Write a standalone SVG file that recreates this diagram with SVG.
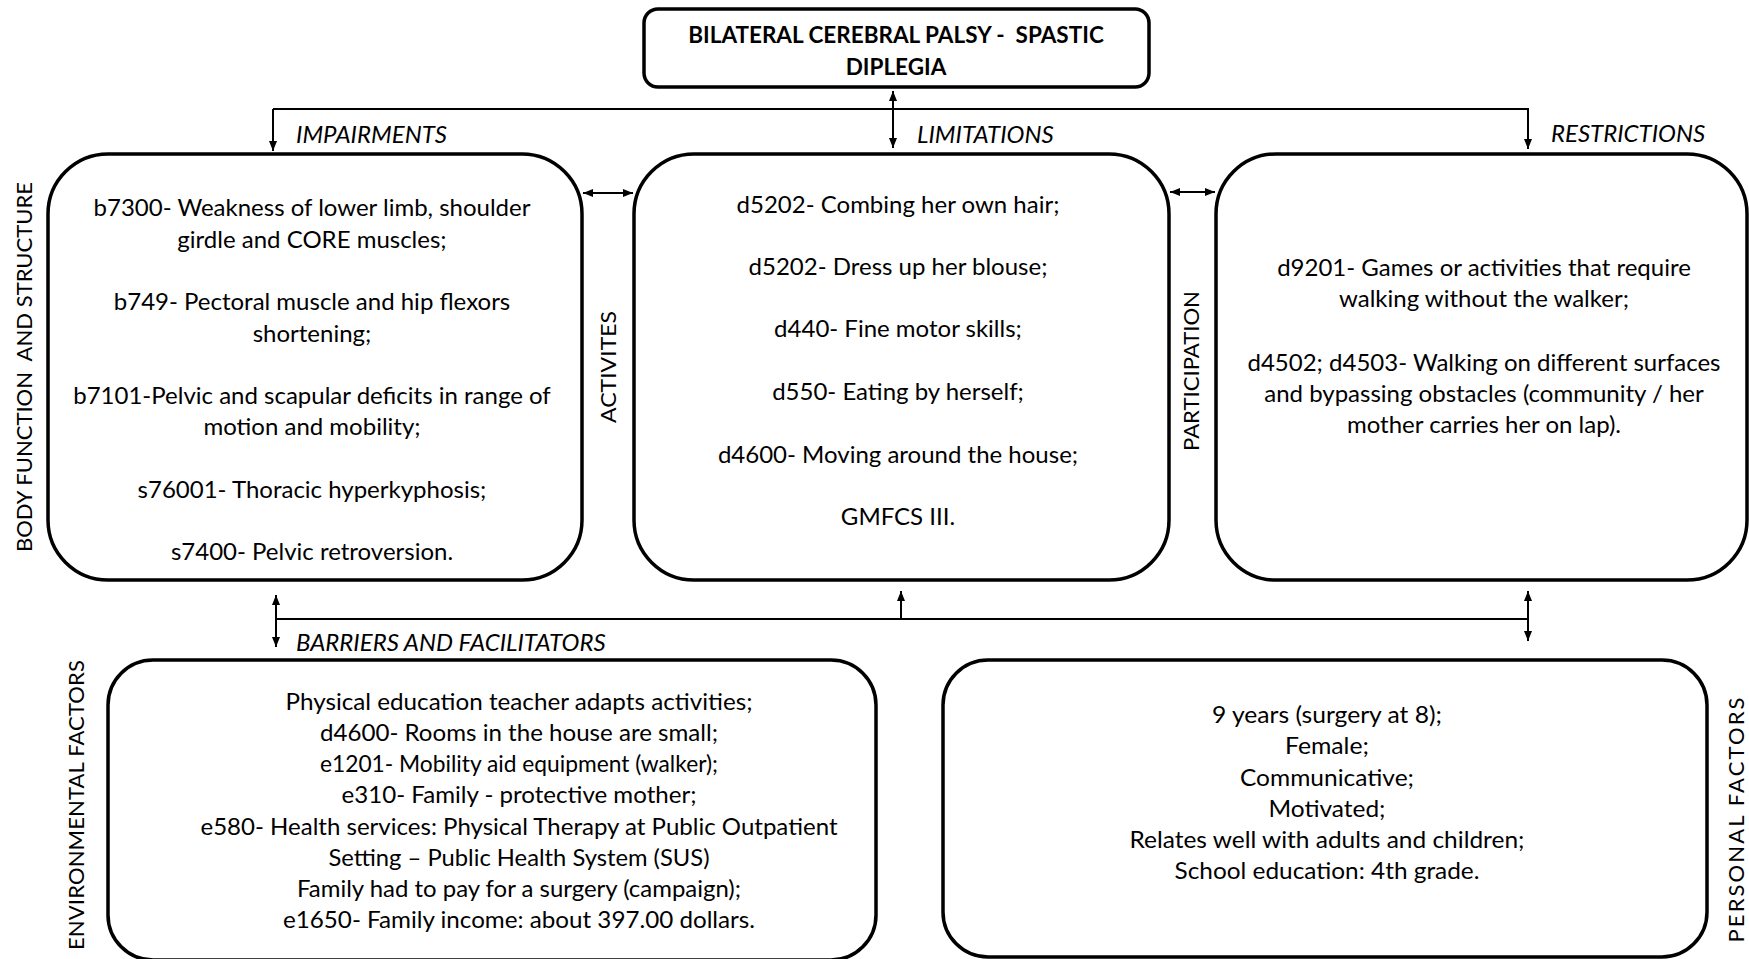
<svg xmlns="http://www.w3.org/2000/svg" width="1749" height="959" viewBox="0 0 1749 959">
<defs>
<marker id="ah" viewBox="0 0 10 10" refX="10" refY="5" markerWidth="10" markerHeight="10" markerUnits="userSpaceOnUse" orient="auto-start-reverse">
<path d="M0,1 L10,5 L0,9 z" fill="#000"/>
</marker>
<style>
.box{fill:#fff;stroke:#000;stroke-width:3.5}
.con{fill:none;stroke:#000;stroke-width:2}
.t{font-family:Lato,"Liberation Sans",sans-serif;font-size:24px;fill:#000;text-anchor:middle}
.tb{font-family:Lato,"Liberation Sans",sans-serif;font-size:22.5px;font-weight:bold;fill:#000;text-anchor:middle;white-space:pre}
.lab{font-family:Lato,"Liberation Sans",sans-serif;font-size:24px;font-style:italic;fill:#000}
.side{font-family:Lato,"Liberation Sans",sans-serif;font-size:22px;fill:#000;text-anchor:middle;white-space:pre}
.c{font-family:Lato,"Liberation Sans",sans-serif;font-size:24px;fill:#000;text-anchor:middle}
</style>
</defs>
<rect width="1749" height="959" fill="#fff"/>
<g id="connectors">
<polyline class="con" points="273,109 1528,109 1528,149" marker-end="url(#ah)"/>
<line class="con" x1="273" y1="109" x2="273" y2="151" marker-end="url(#ah)"/>
<line class="con" x1="893" y1="91" x2="893" y2="148" marker-start="url(#ah)" marker-end="url(#ah)"/>
<line class="con" x1="583" y1="193" x2="633" y2="193" marker-start="url(#ah)" marker-end="url(#ah)"/>
<line class="con" x1="1170" y1="192" x2="1215" y2="192" marker-start="url(#ah)" marker-end="url(#ah)"/>
<line class="con" x1="276" y1="619" x2="1528" y2="619"/>
<line class="con" x1="276" y1="595" x2="276" y2="647" marker-start="url(#ah)" marker-end="url(#ah)"/>
<line class="con" x1="901" y1="619" x2="901" y2="591" marker-end="url(#ah)"/>
<line class="con" x1="1528" y1="591" x2="1528" y2="641" marker-start="url(#ah)" marker-end="url(#ah)"/>
<text class="lab" x="296" y="143">IMPAIRMENTS</text>
<text class="lab" x="917" y="143">LIMITATIONS</text>
<text class="lab" x="1551" y="142">RESTRICTIONS</text>
<text class="lab" x="296" y="651">BARRIERS AND FACILITATORS</text>
</g>
<g id="title">
<rect class="box" x="644" y="9" width="505" height="78" rx="14"/>
<text class="tb" x="896" y="43" xml:space="preserve">BILATERAL CEREBRAL PALSY -  SPASTIC</text>
<text class="tb" x="896" y="75">DIPLEGIA</text>
</g>
<g id="body">
<rect class="box" x="48" y="154" width="534" height="426" rx="60"/>
<text class="t" x="312" y="216">b7300- Weakness of lower limb, shoulder</text>
<text class="t" x="312" y="248">girdle and CORE muscles;</text>
<text class="t" x="312" y="310">b749- Pectoral muscle and hip flexors</text>
<text class="t" x="312" y="342">shortening;</text>
<text class="t" x="312" y="404">b7101-Pelvic and scapular deficits in range of</text>
<text class="t" x="312" y="435">motion and mobility;</text>
<text class="t" x="312" y="498">s76001- Thoracic hyperkyphosis;</text>
<text class="t" x="312" y="560">s7400- Pelvic retroversion.</text>
<text class="side" transform="translate(32,367) rotate(-90)" xml:space="preserve" textLength="370" lengthAdjust="spacingAndGlyphs">BODY FUNCTION  AND STRUCTURE</text>
</g>
<g id="activities">
<rect class="box" x="634" y="154" width="535" height="426" rx="60"/>
<text class="t" x="898" y="213">d5202- Combing her own hair;</text>
<text class="t" x="898" y="275">d5202- Dress up her blouse;</text>
<text class="t" x="898" y="337">d440- Fine motor skills;</text>
<text class="t" x="898" y="400">d550- Eating by herself;</text>
<text class="t" x="898" y="463">d4600- Moving around the house;</text>
<text class="t" x="898" y="525">GMFCS III.</text>
<text class="side" transform="translate(616,367) rotate(-90)" textLength="112" lengthAdjust="spacingAndGlyphs">ACTIVITES</text>
</g>
<g id="participation">
<rect class="box" x="1216" y="154" width="531" height="426" rx="60"/>
<text class="t" x="1484" y="276">d9201- Games or activities that require</text>
<text class="t" x="1484" y="307">walking without the walker;</text>
<text class="t" x="1484" y="371">d4502; d4503- Walking on different surfaces</text>
<text class="t" x="1484" y="402">and bypassing obstacles (community / her</text>
<text class="t" x="1484" y="433">mother carries her on lap).</text>
<text class="side" transform="translate(1199,371) rotate(-90)" textLength="160" lengthAdjust="spacingAndGlyphs">PARTICIPATION</text>
</g>
<g id="environmental">
<rect class="box" x="108" y="660" width="768" height="300" rx="45"/>
<text class="c" x="519" y="710" textLength="467" lengthAdjust="spacingAndGlyphs">Physical education teacher adapts activities;</text>
<text class="c" x="519" y="741" textLength="398" lengthAdjust="spacingAndGlyphs">d4600- Rooms in the house are small;</text>
<text class="c" x="519" y="772" textLength="398" lengthAdjust="spacingAndGlyphs">e1201- Mobility aid equipment (walker);</text>
<text class="c" x="519" y="803" textLength="355" lengthAdjust="spacingAndGlyphs">e310- Family - protective mother;</text>
<text class="c" x="519" y="835" textLength="637" lengthAdjust="spacingAndGlyphs">e580- Health services: Physical Therapy at Public Outpatient</text>
<text class="c" x="519" y="866" textLength="381" lengthAdjust="spacingAndGlyphs">Setting – Public Health System (SUS)</text>
<text class="c" x="519" y="897" textLength="444" lengthAdjust="spacingAndGlyphs">Family had to pay for a surgery (campaign);</text>
<text class="c" x="519" y="928" textLength="472" lengthAdjust="spacingAndGlyphs">e1650- Family income: about 397.00 dollars.</text>
<text class="side" transform="translate(84,805) rotate(-90)" textLength="290" lengthAdjust="spacing">ENVIRONMENTAL FACTORS</text>
</g>
<g id="personal">
<rect class="box" x="943" y="660" width="764" height="297" rx="45"/>
<text class="c" x="1327" y="723" textLength="230" lengthAdjust="spacingAndGlyphs">9 years (surgery at 8);</text>
<text class="c" x="1327" y="754" textLength="84" lengthAdjust="spacingAndGlyphs">Female;</text>
<text class="c" x="1327" y="786" textLength="174" lengthAdjust="spacingAndGlyphs">Communicative;</text>
<text class="c" x="1327" y="817" textLength="117" lengthAdjust="spacingAndGlyphs">Motivated;</text>
<text class="c" x="1327" y="848" textLength="395" lengthAdjust="spacingAndGlyphs">Relates well with adults and children;</text>
<text class="c" x="1327" y="879" textLength="305" lengthAdjust="spacingAndGlyphs">School education: 4th grade.</text>
<text class="side" transform="translate(1744,820) rotate(-90)" textLength="245" lengthAdjust="spacing">PERSONAL FACTORS</text>
</g>
</svg>
